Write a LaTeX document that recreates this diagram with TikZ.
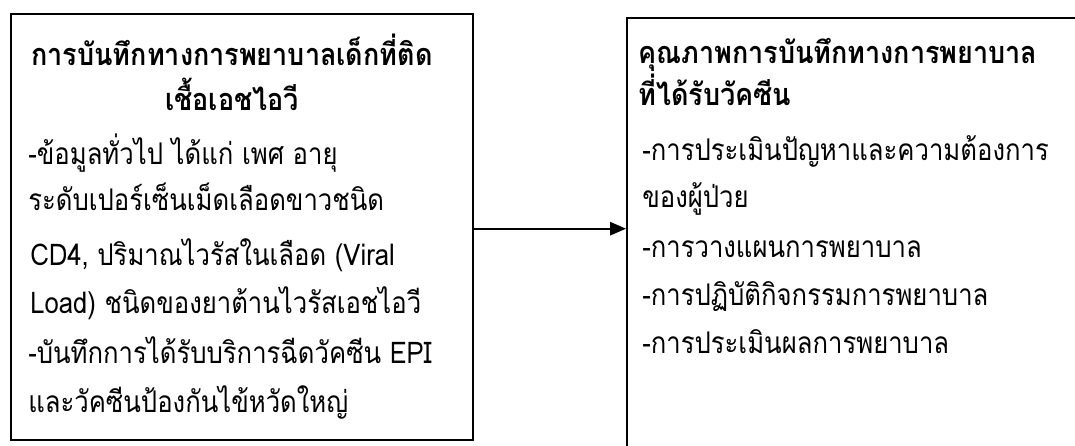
\documentclass[tikz,border=0pt]{standalone}
\usepackage{fontspec}
\usepackage{graphicx}
\newfontfamily\thai[Script=Thai]{Loma}
\newcommand{\sqb}[1]{\scalebox{0.86}[1]{#1}}
\newcommand{\sqt}[1]{\scalebox{0.88}[1]{#1}}
\usetikzlibrary{arrows.meta}
\tikzset{
  px/.style={x=0.75pt,y=-0.75pt},
  boxframe/.style={draw=black,line width=1.5pt,rectangle,inner sep=0pt,anchor=north west},
  ttl/.style={font=\thai\bfseries\fontsize{23}{28}\selectfont,inner sep=0pt},
  txt/.style={font=\thai\fontsize{22.4}{27}\selectfont,inner sep=0pt,anchor=base west},
  conn/.style={line width=1.5pt,-{Triangle[length=12pt,width=10pt]}}
}
\begin{document}
\begin{tikzpicture}[px]
\useasboundingbox (0,0) rectangle (1075,446);
\fill[white] (0,0) rectangle (1075,446);
% boxes
\node[boxframe,minimum width=462*0.75pt,minimum height=426*0.75pt] (L) at (10,12.7) {};
\node[boxframe,minimum width=480*0.75pt,minimum height=450*0.75pt] (R) at (626,16.7) {};
% left texts
\node[ttl,anchor=base] (l1) at (232,65) {\sqt{การบันทึกทางการพยาบาลเด็กที่ติด}};
\node[ttl,anchor=base] (l2) at (232,110) {\sqt{เชื้อเอชไอวี}};
\node[txt] (l3) at (28,164) {\sqb{-ข้อมูลทั่วไป ได้แก่ เพศ อายุ}};
\node[txt] (l4) at (28,210) {\sqb{ระดับเปอร์เซ็นเม็ดเลือดขาวชนิด}};
\node[txt] (l5) at (30,265) {\sqb{CD4, ปริมาณไวรัสในเลือด (Viral}};
\node[txt] (l6) at (30,313) {\sqb{Load) ชนิดของยาต้านไวรัสเอชไอวี}};
\node[txt] (l7) at (28,363) {\sqb{-บันทึกการได้รับบริการฉีดวัคซีน EPI}};
\node[txt] (l8) at (28,412) {\sqb{และวัคซีนป้องกันไข้หวัดใหญ่}};
% right texts
\node[ttl,anchor=base west] (r1) at (638,63) {\sqt{คุณภาพการบันทึกทางการพยาบาล}};
\node[ttl,anchor=base west] (r2) at (638,105) {\sqt{ที่ได้รับวัคซีน}};
\node[txt] (r3) at (642,160) {\sqb{-การประเมินปัญหาและความต้องการ}};
\node[txt] (r4) at (642,207) {\sqb{ของผู้ป่วย}};
\node[txt] (r5) at (642,257) {\sqb{-การวางแผนการพยาบาล}};
\node[txt] (r6) at (642,305) {\sqb{-การปฏิบัติกิจกรรมการพยาบาล}};
\node[txt] (r7) at (642,353) {\sqb{-การประเมินผลการพยาบาล}};
% connector
\draw[conn] ([yshift=-1.5pt]L.east) -- ([yshift=-1.5pt]L.east -| R.west);
\end{tikzpicture}
\end{document}
